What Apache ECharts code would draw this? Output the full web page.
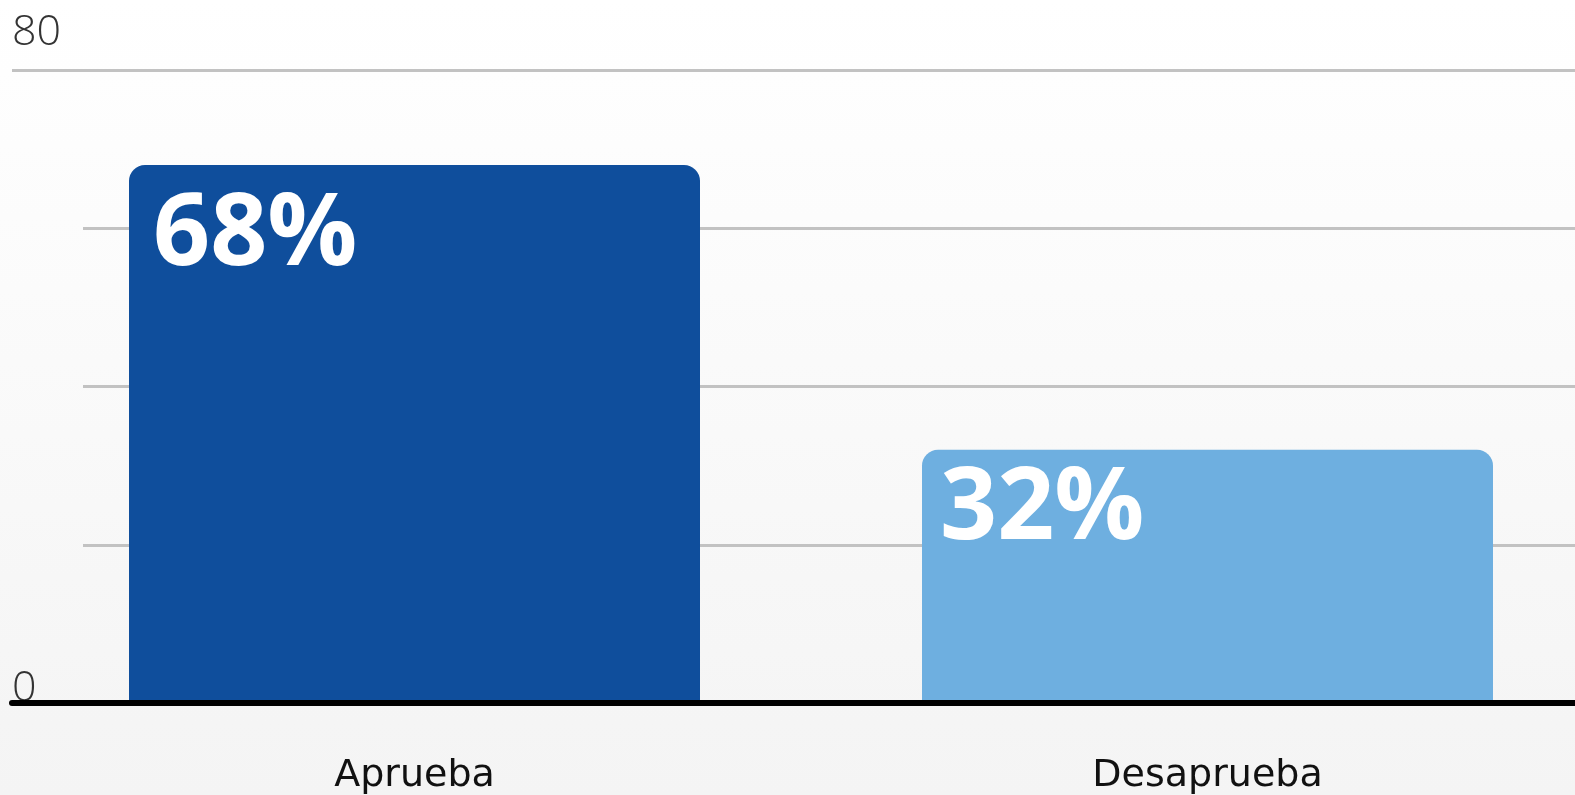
<!DOCTYPE html>
<html>
<head>
<meta charset="utf-8">
<script src="https://cdn.jsdelivr.net/npm/echarts@6/dist/echarts.min.js"></script>
<style>
  html, body { margin: 0; padding: 0; }
  #mycharts { width: 1575px; height: 795px; background: linear-gradient(#ffffff, #f4f4f4); }
</style>
</head>
<body>
<div id="mycharts"></div>
<script>
const categories = ['Aprueba', 'Desaprueba']
const values = [68, 32]
const barColors = ['#0f4e9c', '#6eafe0']
const yTicks = [0, 80]
// label nudges inside each bar, as in the picture
const labelOffsets = [[24, 22], [18, 11]]

const font = '"Open Sans", "Noto Sans", sans-serif'
const gridLine = { color: '#c2c2c2', width: 3 }

let myCharts = echarts.init(document.getElementById('mycharts'))

let options = {
  animation: false,
  grid: [
    { left: 12, right: 0, top: 70, bottom: 92, outerBoundsMode: 'none' },
    { left: 83, right: 0, top: 70, bottom: 92, outerBoundsMode: 'none' },
    { left: 18, width: 1586, top: 70, bottom: 92, outerBoundsMode: 'none' }
  ],
  xAxis: [
    {
      gridIndex: 0, type: 'category', data: categories, z: 10,
      axisLine: { lineStyle: { color: '#000', width: 6 } },
      axisTick: { show: false }, axisLabel: { show: false }
    },
    { gridIndex: 1, type: 'category', data: categories, show: false },
    {
      gridIndex: 2, type: 'category', data: categories,
      axisLine: { show: false }, axisTick: { show: false },
      axisLabel: { margin: 54, fontSize: 38, color: '#111', fontFamily: '"DejaVu Sans", sans-serif' }
    }
  ],
  yAxis: [
    {
      gridIndex: 0, type: 'value', min: yTicks[0], max: yTicks[1], interval: 80,
      axisLine: { show: false }, axisTick: { show: false },
      splitLine: { lineStyle: gridLine },
      axisLabel: {
        inside: true, margin: 0, verticalAlign: 'bottom',
        formatter: v => (v === 80 ? '{top|' + v + '}' : '{base|' + v + '}'),
        rich: {
          top: { fontSize: 43, lineHeight: 55, color: '#333', fontFamily: font, fontWeight: 300, padding: [0, 0, 19, 0] },
          base: { fontSize: 43, lineHeight: 28, color: '#333', fontFamily: font, fontWeight: 300 }
        }
      }
    },
    {
      gridIndex: 1, type: 'value', min: 0, max: 80, interval: 20,
      axisLine: { show: false }, axisTick: { show: false }, axisLabel: { show: false },
      splitLine: { lineStyle: gridLine }
    },
    { gridIndex: 2, type: 'value', min: 0, max: 80, show: false }
  ],
  series: [
    {
      type: 'bar',
      xAxisIndex: 2,
      yAxisIndex: 2,
      barWidth: 571,
      z: 3,
      data: values.map((v, i) => ({
        value: v,
        itemStyle: { color: barColors[i], borderRadius: [16, 16, 0, 0] },
        label: { offset: labelOffsets[i] }
      })),
      label: {
        show: true,
        position: 'insideTopLeft',
        distance: 0,
        formatter: '{c}%',
        color: '#fff',
        fontSize: 100,
        fontWeight: 'bold',
        fontFamily: font
      }
    }
  ]
}
myCharts.setOption(options)
</script>
</body>
</html>
